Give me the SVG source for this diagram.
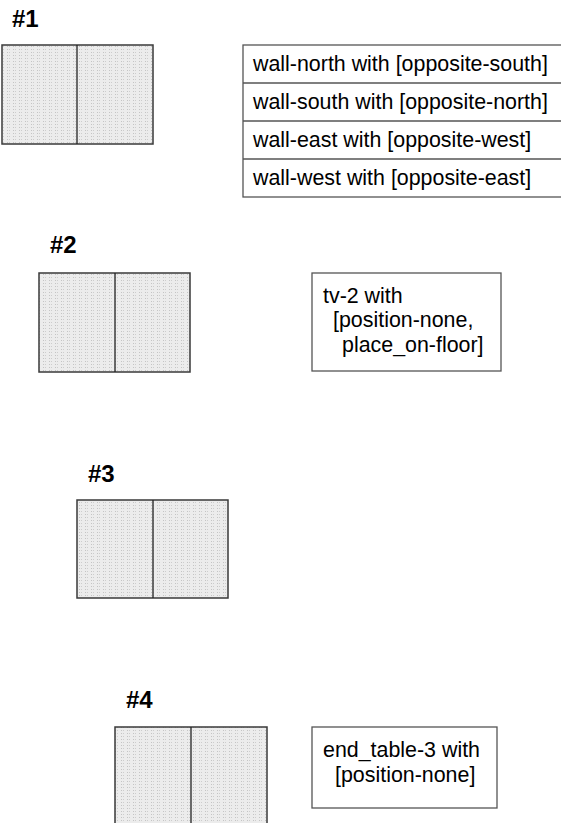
<svg xmlns="http://www.w3.org/2000/svg" width="561" height="823" viewBox="0 0 561 823">
<defs>
<pattern id="dots" width="6" height="3" patternUnits="userSpaceOnUse">
<rect width="6" height="3" fill="#ececec"/>
<rect x="1" y="1" width="1" height="1" fill="#c4c4c4"/>
<rect x="3" y="1" width="1" height="1" fill="#cdcdcd"/>
</pattern>
</defs>
<style>
.panel{fill:url(#dots);stroke:#3a3a3a;stroke-width:1.5}
.div{stroke:#222;stroke-width:1.3}
.lbl{font-family:"Liberation Sans",Arial,sans-serif;font-weight:bold;font-size:24px;fill:#000}
.box{fill:#fff;stroke:#555;stroke-width:1.3}
.t{font-family:"Liberation Sans",Arial,sans-serif;font-size:21.4px;fill:#000}
</style>
<rect width="561" height="823" fill="#fff"/>
<g id="scene1">
<text class="lbl" x="12" y="27">#1</text>
<rect class="panel" x="2" y="45" width="151" height="99"/>
<line class="div" x1="77" y1="45" x2="77" y2="144"/>
</g>
<g id="table1">
<rect class="box" x="243" y="45" width="330" height="152"/>
<line class="box" x1="243" y1="83" x2="561" y2="83"/>
<line class="box" x1="243" y1="121" x2="561" y2="121"/>
<line class="box" x1="243" y1="159" x2="561" y2="159"/>
<text class="t" x="253" y="71">wall-north with [opposite-south]</text>
<text class="t" x="253" y="109">wall-south with [opposite-north]</text>
<text class="t" x="253" y="147">wall-east with [opposite-west]</text>
<text class="t" x="253" y="185">wall-west with [opposite-east]</text>
</g>
<g id="scene2">
<text class="lbl" x="50" y="253">#2</text>
<rect class="panel" x="39" y="273" width="151" height="99"/>
<line class="div" x1="115" y1="273" x2="115" y2="372"/>
</g>
<g id="box2">
<rect class="box" x="312" y="273" width="189" height="98"/>
<text class="t" x="323" y="303">tv-2 with</text>
<text class="t" x="333" y="327">[position-none,</text>
<text class="t" x="342" y="352">place_on-floor]</text>
</g>
<g id="scene3">
<text class="lbl" x="88" y="482">#3</text>
<rect class="panel" x="77" y="500" width="151" height="98"/>
<line class="div" x1="153" y1="500" x2="153" y2="598"/>
</g>
<g id="scene4">
<text class="lbl" x="126" y="708">#4</text>
<rect class="panel" x="115" y="727" width="152" height="99"/>
<line class="div" x1="191" y1="727" x2="191" y2="826"/>
</g>
<g id="box4">
<rect class="box" x="312" y="727" width="185" height="81"/>
<text class="t" x="323" y="757">end_table-3 with</text>
<text class="t" x="335" y="782">[position-none]</text>
</g>
</svg>
